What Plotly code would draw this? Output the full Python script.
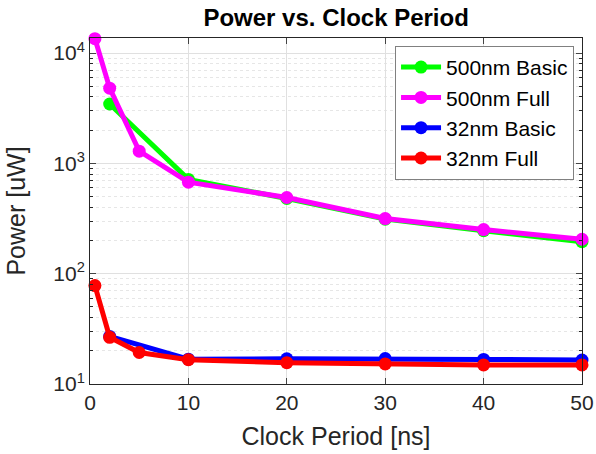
import plotly.graph_objects as go

x_basic = [2, 10, 20, 30, 40, 50]
x_full = [0.5, 2, 5, 10, 20, 30, 40, 50]

p500_basic = [3450, 715, 480, 312, 245, 195]
p500_full = [13500, 4800, 1290, 675, 490, 316, 251, 205]
p32_basic = [27, 16.8, 16.9, 17.0, 16.7, 16.5]
p32_full = [78, 26.5, 19.3, 16.6, 15.6, 15.2, 14.9, 14.9]

series = [
    ("500nm Basic", x_basic, p500_basic, "#00ff00"),
    ("500nm Full", x_full, p500_full, "#ff00ff"),
    ("32nm Basic", x_basic, p32_basic, "#0000ff"),
    ("32nm Full", x_full, p32_full, "#ff0000"),
]

x_ticks = [0, 10, 20, 30, 40, 50]
y_ticks = [10, 100, 1000, 10000]
y_ticktext = ["10<sup>1</sup>", "10<sup>2</sup>", "10<sup>3</sup>", "10<sup>4</sup>"]
minor_y = [m * 10 ** k for k in range(1, 5) for m in range(2, 10)]

fig = go.Figure()
for name, xs, ys, col in series:
    fig.add_trace(go.Scatter(
        x=xs, y=ys, name=name, mode="lines+markers",
        line=dict(color=col, width=5),
        marker=dict(color=col, size=13),
        cliponaxis=False,
    ))

font_family = "Liberation Sans, Arial, sans-serif"
fig.update_layout(
    width=596, height=454,
    margin=dict(l=90, r=14, t=38, b=70, autoexpand=False),
    paper_bgcolor="white", plot_bgcolor="white",
    font=dict(family=font_family, color="#262626"),
    title=dict(text="<b>Power vs. Clock Period</b>", x=0.564, xanchor="center",
               y=0.962, yanchor="middle", font=dict(size=24, color="black")),
    showlegend=True,
    legend=dict(x=0.62, y=0.977, xanchor="left", yanchor="top",
                bgcolor="white", bordercolor="#808080", borderwidth=1,
                font=dict(size=21, color="black"), tracegroupgap=0,
                itemwidth=40),
)
fig.update_xaxes(
    range=[0, 50], tickvals=x_ticks, ticks="inside", ticklen=6,
    showline=True, linecolor="#262626", linewidth=1, mirror="allticks",
    showgrid=True, gridcolor="#e0e0e0", gridwidth=1, zeroline=False,
    automargin=False,
    tickfont=dict(size=21, color="#262626"),
    title=dict(text="Clock Period [ns]", font=dict(size=25, color="#262626"), standoff=14),
)
fig.update_yaxes(
    type="log", range=[1, 4.136], tickvals=y_ticks, ticktext=y_ticktext,
    ticks="inside", ticklen=6,
    showline=True, linecolor="#262626", linewidth=1, mirror="allticks",
    showgrid=True, gridcolor="#e0e0e0", gridwidth=1, zeroline=False,
    automargin=False,
    tickfont=dict(size=21, color="#262626"),
    minor=dict(tickvals=minor_y, ticks="inside", ticklen=3, showgrid=True,
               gridcolor="#e6e6e6", griddash="dot", tickcolor="#262626"),
    title=dict(text="Power [uW]", font=dict(size=25, color="#262626"), standoff=20),
)
fig.write_html("out.html")
